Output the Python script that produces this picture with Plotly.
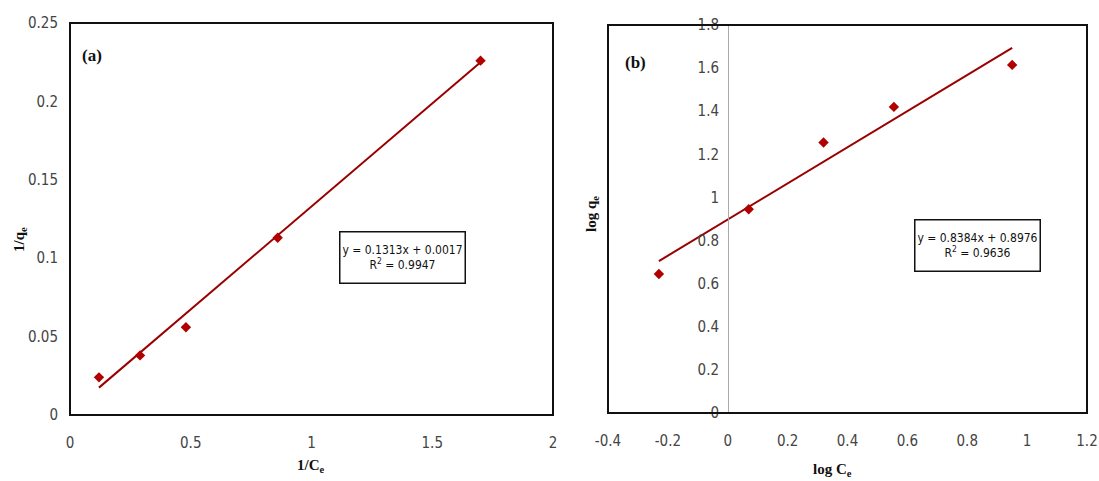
import plotly.graph_objects as go

# Panel (a): Langmuir
inv_ce = [0.12, 0.29, 0.48, 0.86, 1.70]
inv_qe = [0.024, 0.038, 0.056, 0.113, 0.226]
slope_a, icpt_a, r2_a = 0.1313, 0.0017, 0.9947

# Panel (b): Freundlich
log_ce = [-0.23, 0.07, 0.32, 0.555, 0.95]
log_qe = [0.645, 0.945, 1.255, 1.42, 1.615]
slope_b, icpt_b, r2_b = 0.8384, 0.8976, 0.9636

xb_tickvals = [-0.4, -0.2, 0, 0.2, 0.4, 0.6, 0.8, 1.0, 1.2]
xb_ticktext = ["-0.4", "-0.2", "0", "0.2", "0.4", "0.6", "0.8", "1", "1.2"]

W, H = 1099, 481
def px(x): return x / W
def py(y): return 1 - y / H

MARK = "#B00000"
LINE = "#9A0000"
TICKFONT = dict(family="DejaVu Sans Condensed, DejaVu Sans, sans-serif", size=15, color="#444")
TITLEFONT = dict(family="Liberation Serif, Times New Roman, serif", size=15, color="#111")

fig = go.Figure()

xa_line = [min(inv_ce), max(inv_ce)]
fig.add_trace(go.Scatter(x=xa_line, y=[slope_a * v + icpt_a for v in xa_line], mode="lines",
                         line=dict(color=LINE, width=2), xaxis="x", yaxis="y", showlegend=False))
fig.add_trace(go.Scatter(x=inv_ce, y=inv_qe, mode="markers",
                         marker=dict(symbol="diamond", size=8, color=MARK), xaxis="x", yaxis="y", showlegend=False))

xb_line = [min(log_ce), max(log_ce)]
fig.add_trace(go.Scatter(x=xb_line, y=[slope_b * v + icpt_b for v in xb_line], mode="lines",
                         line=dict(color=LINE, width=2), xaxis="x2", yaxis="y2", showlegend=False))
fig.add_trace(go.Scatter(x=log_ce, y=log_qe, mode="markers",
                         marker=dict(symbol="diamond", size=8, color=MARK), xaxis="x2", yaxis="y2", showlegend=False))

fig.update_layout(
    width=W, height=H,
    margin=dict(l=0, r=0, t=0, b=0),
    paper_bgcolor="white", plot_bgcolor="white",
    xaxis=dict(domain=[px(70), px(553)], range=[0, 2], dtick=0.5, tickformat="~g",
               showgrid=False, zeroline=False, showline=False, ticks="outside", ticklen=14,
               tickcolor="rgba(0,0,0,0)", tickfont=TICKFONT, automargin=False, anchor="y"),
    yaxis=dict(domain=[py(415), py(23)], range=[0, 0.25], dtick=0.05, tickformat="~g",
               showgrid=False, zeroline=False, showline=False, ticks="outside", ticklen=8,
               tickcolor="rgba(0,0,0,0)", tickfont=TICKFONT, automargin=False, anchor="x"),
    xaxis2=dict(domain=[px(608), px(1087)], range=[-0.4, 1.2],
                tickmode="array", tickvals=xb_tickvals, ticktext=xb_ticktext,
                showgrid=False, zeroline=False, showline=False, ticks="outside", ticklen=14,
                tickcolor="rgba(0,0,0,0)", tickfont=TICKFONT, automargin=False, anchor="y2"),
    yaxis2=dict(domain=[py(413), py(25)], range=[0, 1.8], dtick=0.2, tickformat="~g",
                showgrid=False, zeroline=False, showline=True, linecolor="#aaaaaa", linewidth=1,
                ticks="outside", ticklen=6, tickcolor="rgba(0,0,0,0)", tickfont=TICKFONT,
                automargin=False, anchor="free", position=px(728)),
)

# frames
for xr, yr in [("x domain", "y domain"), ("x2 domain", "y2 domain")]:
    fig.add_shape(type="rect", xref=xr, yref=yr, x0=0, x1=1, y0=0, y1=1,
                  line=dict(color="#111", width=2), layer="above")

ann = []
LBLFONT = dict(family="Liberation Serif, serif", size=17, color="#111")
ann.append(dict(text="<b>(a)</b>", x=px(92), y=py(55), xref="paper", yref="paper", showarrow=False,
                font=LBLFONT, xanchor="center", yanchor="middle"))
ann.append(dict(text="<b>(b)</b>", x=px(635), y=py(62), xref="paper", yref="paper", showarrow=False,
                font=LBLFONT, xanchor="center", yanchor="middle"))
ann.append(dict(text="<b>1/C<sub>e</sub></b>", x=px(311), y=py(466), xref="paper", yref="paper", showarrow=False,
                font=TITLEFONT, xanchor="center", yanchor="middle"))
ann.append(dict(text="<b>1/q<sub>e</sub></b>", x=px(20), y=py(240), xref="paper", yref="paper", showarrow=False,
                font=TITLEFONT, textangle=-90, xanchor="center", yanchor="middle"))
ann.append(dict(text="<b>log C<sub>e</sub></b>", x=px(832), y=py(470), xref="paper", yref="paper", showarrow=False,
                font=TITLEFONT, xanchor="center", yanchor="middle"))
ann.append(dict(text="<b>log q<sub>e</sub></b>", x=px(592), y=py(214), xref="paper", yref="paper", showarrow=False,
                font=TITLEFONT, textangle=-90, xanchor="center", yanchor="middle"))

EQFONT = dict(family="DejaVu Sans Condensed, DejaVu Sans, sans-serif", size=12, color="#111")
ann.append(dict(text=f"y = {slope_a}x + {icpt_a:.4f}<br>R<sup>2</sup> = {r2_a}",
                x=px(402.5), y=py(257), xref="paper", yref="paper", showarrow=False,
                font=EQFONT, bgcolor="white", bordercolor="#111", borderwidth=1.5, borderpad=2,
                width=120, height=46, xanchor="center", yanchor="middle"))
ann.append(dict(text=f"y = {slope_b}x + {icpt_b}<br>R<sup>2</sup> = {r2_b}",
                x=px(977.5), y=py(245), xref="paper", yref="paper", showarrow=False,
                font=EQFONT, bgcolor="white", bordercolor="#111", borderwidth=1.5, borderpad=2,
                width=120, height=46, xanchor="center", yanchor="middle"))
fig.update_layout(annotations=ann)

fig.write_html("out.html", config={"displayModeBar": False},
               post_script="document.body.style.margin='0';document.body.style.overflow='hidden';")
